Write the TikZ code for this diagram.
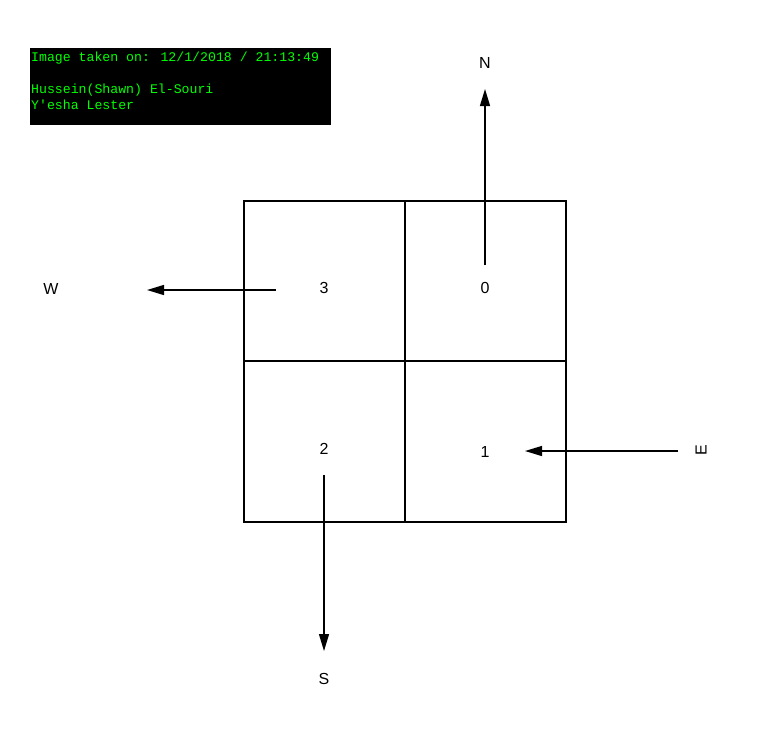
\documentclass[tikz,border=0pt]{standalone}
\usepackage{fontspec}
\setmainfont{Liberation Sans}
\newfontfamily\stampfont{Liberation Mono}
\usetikzlibrary{arrows.meta}
\definecolor{stampgreen}{RGB}{0,255,0}
\tikzset{
    dirarrow/.style={-{Triangle[length=17pt,width=10pt]}, line width=1.3pt},
    celltext/.style={font=\fontsize{16}{18}\selectfont},
    dirtext/.style={font=\fontsize{16}{18}\selectfont},
}
\begin{document}
\begin{tikzpicture}[x=1pt, y=-1pt]
        \useasboundingbox (0,0) rectangle (770,740);

        % the black stamp box at the top left
        \fill[black] (30,48) rectangle (331,125);
        \node[anchor=north west, inner sep=0pt, text=stampgreen, align=left,
              font=\stampfont\fontsize{13.2}{16}\selectfont] (stamp) at (31,51.5)
            {Image taken on: 12/1/2018 / 21:13:49\\[16pt]Hussein(Shawn) El-Souri\\Y'esha Lester};

        % the 2x2 grid
        \draw[line width=1.3pt] (244,201) rectangle (566,522);
        \draw[line width=1.3pt] (405,201) -- (405,522);
        \draw[line width=1.3pt] (244,361) -- (566,361);

        % the numbers in the cells
        \node[celltext] (n3) at (324,288) {3};
        \node[celltext] (n0) at (485,288) {0};
        \node[celltext] (n2) at (324,449) {2};
        \node[celltext] (n1) at (485,452) {1};

        % the direction labels
        \node[dirtext] (north) at (485,63) {N};
        \node[dirtext] (west) at (51,289) {W};
        \node[dirtext] (south) at (324,679) {S};
        \node[dirtext, rotate=90] (east) at (701,450) {E};

        % start and end points of the arrows
        \coordinate (nfrom) at (485,265);
        \coordinate (nto) at (485,89);
        \coordinate (wfrom) at (276,290);
        \coordinate (wto) at (147,290);
        \coordinate (sfrom) at (324,475);
        \coordinate (sto) at (324,651);
        \coordinate (efrom) at (678,451);
        \coordinate (eto) at (525,451);

        % the arrows
        \draw[dirarrow] (nfrom) -- (nto);
        \draw[dirarrow] (wfrom) -- (wto);
        \draw[dirarrow] (sfrom) -- (sto);
        \draw[dirarrow] (efrom) -- (eto);
\end{tikzpicture}
\end{document}
